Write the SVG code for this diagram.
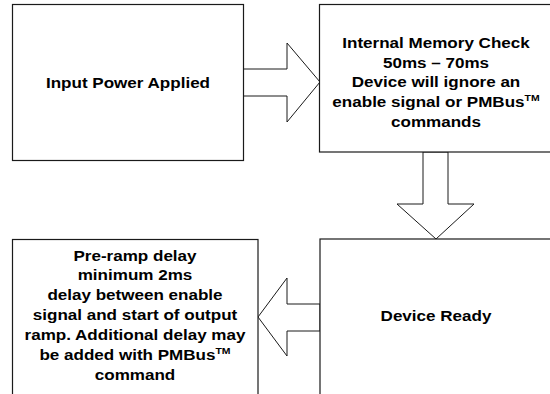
<svg xmlns="http://www.w3.org/2000/svg" width="550" height="394" viewBox="0 0 550 394">
<style>
.box{fill:#fff;stroke:#1a1a1a;stroke-width:1.2}
.arr{fill:#fff;stroke:#1a1a1a;stroke-width:1}
.t{font-family:"Liberation Sans",Arial,sans-serif;font-weight:bold;font-size:15.5px;fill:#000;text-anchor:middle}
.tm{font-size:9.5px}
</style>
<rect width="550" height="394" fill="#fff"/>
<g id="connectors">
<polygon class="arr" points="243.5,69 287,69 287,43 320,82 287,122 287,96 243.5,96"/>
<polygon class="arr" points="423,152 423,204 397,204 436,239 474,204 448,204 448,152"/>
<polygon class="arr" points="320,304 287,304 287,278 258,317 287,356 287,331 320,331"/>
</g>
<g id="node-input-power">
<rect class="box" x="12.5" y="4.5" width="231" height="156"/>
<text class="t" transform="translate(128,88) scale(1.1,1)" x="0" y="0">Input Power Applied</text>
</g>
<g id="node-memory-check">
<rect class="box" x="319.5" y="4.5" width="240" height="147.5"/>
<g transform="translate(436,0) scale(1.1,1)">
<text class="t" x="0" y="48">Internal Memory Check</text>
<text class="t" x="0" y="67.7">50ms – 70ms</text>
<text class="t" x="0" y="87.3">Device will ignore an</text>
<text class="t" x="0" y="107.3">enable signal or PMBus<tspan class="tm" dy="-6.5">TM</tspan></text>
<text class="t" x="0" y="126.6">commands</text>
</g>
</g>
<g id="node-device-ready">
<rect class="box" x="320" y="239" width="240" height="170"/>
<text class="t" transform="translate(436,320.5) scale(1.1,1)" x="0" y="0">Device Ready</text>
</g>
<g id="node-pre-ramp">
<rect class="box" x="12.5" y="239.5" width="245.5" height="170"/>
<g transform="translate(135,0) scale(1.1,1)">
<text class="t" x="0" y="260.7">Pre-ramp delay</text>
<text class="t" x="0" y="280.5">minimum 2ms</text>
<text class="t" x="0" y="300.3">delay between enable</text>
<text class="t" x="0" y="320.1">signal and start of output</text>
<text class="t" x="0" y="340.5">ramp. Additional delay may</text>
<text class="t" x="0" y="360.3">be added with PMBus<tspan class="tm" dy="-6.5">TM</tspan></text>
<text class="t" x="0" y="380">command</text>
</g>
</g>
</svg>
